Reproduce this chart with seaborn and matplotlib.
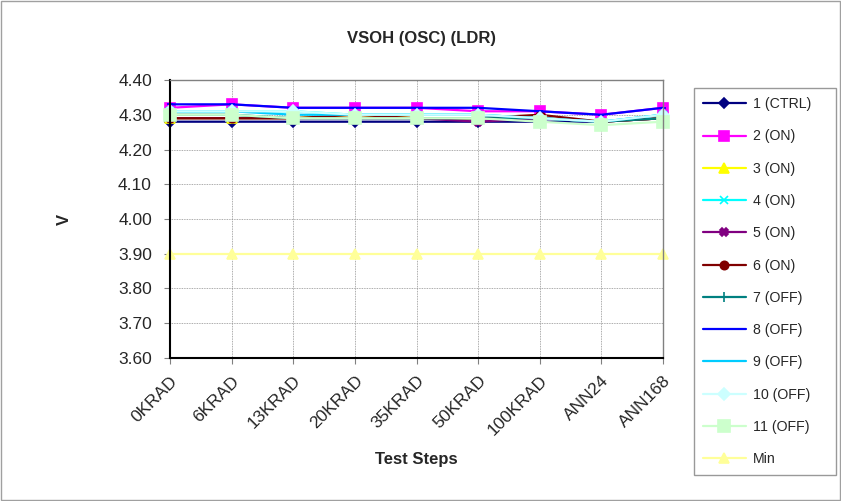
import matplotlib
matplotlib.use("Agg")
import matplotlib.pyplot as plt
import seaborn as sns
import pandas as pd
from matplotlib.patches import Rectangle

steps = ["0KRAD", "6KRAD", "13KRAD", "20KRAD", "35KRAD", "50KRAD", "100KRAD", "ANN24", "ANN168"]

s1 = [4.28, 4.28, 4.28, 4.28, 4.28, 4.28, 4.28, 4.28, 4.29]
s2 = [4.32, 4.33, 4.32, 4.32, 4.32, 4.31, 4.31, 4.30, 4.32]
s3 = [4.29, 4.29, 4.29, 4.30, 4.29, 4.29, 4.29, 4.28, 4.29]
s4 = [4.31, 4.31, 4.31, 4.30, 4.30, 4.30, 4.29, 4.28, 4.30]
s5 = [4.29, 4.29, 4.29, 4.29, 4.29, 4.28, 4.29, 4.28, 4.29]
s6 = [4.29, 4.29, 4.29, 4.30, 4.29, 4.29, 4.30, 4.28, 4.29]
s7 = [4.30, 4.30, 4.29, 4.29, 4.29, 4.29, 4.29, 4.28, 4.29]
s8 = [4.33, 4.33, 4.32, 4.32, 4.32, 4.32, 4.31, 4.30, 4.32]
s9 = [4.31, 4.31, 4.30, 4.30, 4.30, 4.30, 4.29, 4.28, 4.30]
s10 = [4.31, 4.31, 4.31, 4.30, 4.30, 4.30, 4.29, 4.28, 4.30]
s11 = [4.30, 4.30, 4.29, 4.29, 4.29, 4.29, 4.28, 4.27, 4.28]
smin = [3.90, 3.90, 3.90, 3.90, 3.90, 3.90, 3.90, 3.90, 3.90]

names = ["1 (CTRL)", "2 (ON)", "3 (ON)", "4 (ON)", "5 (ON)", "6 (ON)",
         "7 (OFF)", "8 (OFF)", "9 (OFF)", "10 (OFF)", "11 (OFF)", "Min"]
series = [s1, s2, s3, s4, s5, s6, s7, s8, s9, s10, s11, smin]

colors = ["#000080", "#FF00FF", "#FFFF00", "#00FFFF", "#800080", "#800000",
          "#008080", "#0000FF", "#00CCFF", "#CCFFFF", "#CCFFCC", "#FFFF99"]
markers = ["D", "s", "^", "x", "X", "o", "+", "_", "_", "D", "s", "^"]
msizes = [5, 7, 7, 6, 6, 6, 7, 5, 8, 6, 8, 7]

sns.set_theme(style="white")
plt.rcParams["font.family"] = ["Liberation Sans", "DejaVu Sans"]

fig = plt.figure(figsize=(8.41, 5.01), dpi=100)
ax = fig.add_axes([170/841, 1-358/501, (663-170)/841, (358-80)/501])

for name, vals, c, m, ms in zip(names, series, colors, markers, msizes):
    df = pd.DataFrame({"step": steps, "v": vals})
    sns.lineplot(data=df, x="step", y="v", ax=ax, color=c, marker=m,
                 markersize=ms, markeredgecolor=c, markerfacecolor=c,
                 markeredgewidth=1.2, linewidth=1.6, sort=False, label=name,
                 legend=False, clip_on=False)

ax.set_xlim(0, 8)
ax.set_ylim(3.60, 4.40)
ax.set_yticks([3.60 + 0.1*i for i in range(9)])
ax.set_yticklabels([f"{3.60 + 0.1*i:.2f}" for i in range(9)], fontsize=12.5)
ax.set_xticks(range(len(steps)))
ax.set_xticklabels(steps, rotation=45, ha="right", rotation_mode="anchor", fontsize=12.5)
ax.tick_params(axis="both", direction="out", length=4, width=0.8, color="#808080",
               bottom=True, left=True)
ax.tick_params(axis="y", pad=9)
ax.tick_params(axis="x", pad=7)
ax.grid(True, color="#909090", linestyle=(0, (1, 1)), linewidth=0.6)
ax.set_axisbelow(True)
for side in ["left", "bottom"]:
    ax.spines[side].set_color("black")
    ax.spines[side].set_linewidth(1.5)
for side in ["top", "right"]:
    ax.spines[side].set_color("#808080")
    ax.spines[side].set_linewidth(1.0)

ax.set_title("VSOH (OSC) (LDR)", fontsize=12, fontweight="bold", pad=27, x=0.51)
ax.set_xlabel("Test Steps", fontsize=12, fontweight="bold", labelpad=10)
ax.set_ylabel("V", fontsize=12, fontweight="bold", labelpad=33)

handles, labels = ax.get_legend_handles_labels()
leg = fig.legend(handles, labels, loc="upper left",
                 bbox_to_anchor=(694/841, 0.0, 142/841, 1-88/501), mode="expand",
                 fontsize=10.2,
                 frameon=True, fancybox=False, edgecolor="#808080",
                 handlelength=3.0, labelspacing=1.29, borderpad=0.65,
                 handletextpad=0.5, borderaxespad=0)
leg.get_frame().set_linewidth(1.0)

fig.patches.append(Rectangle((0.001, 0.001), 0.998, 0.997, transform=fig.transFigure,
                             fill=False, edgecolor="#A0A0A0", linewidth=1.0))

fig.savefig("out.png", dpi=100)
